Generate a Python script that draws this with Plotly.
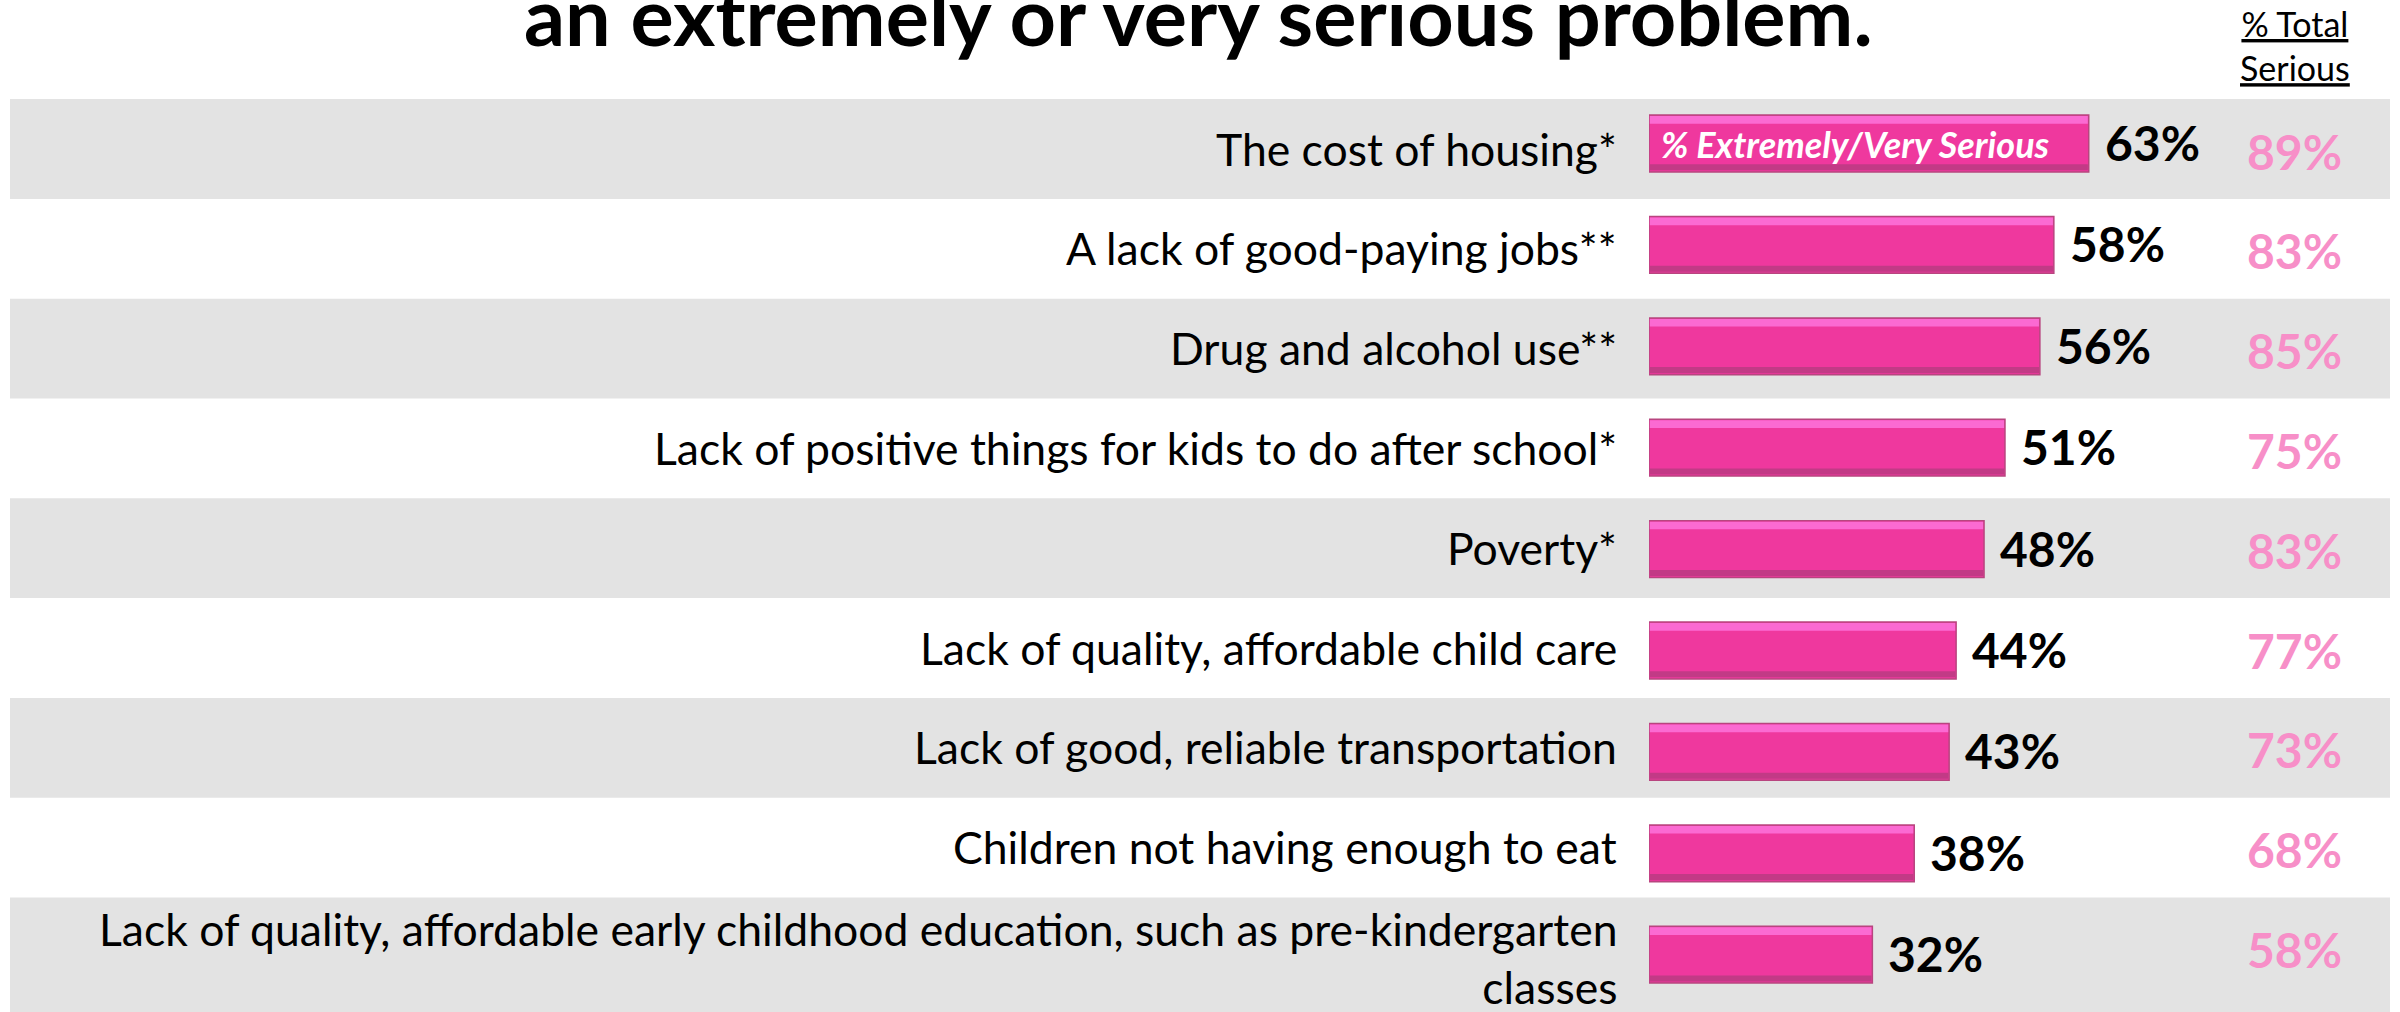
import plotly.graph_objects as go

categories = [
    "The cost of housing*",
    "A lack of good-paying jobs**",
    "Drug and alcohol use**",
    "Lack of positive things for kids to do after school*",
    "Poverty*",
    "Lack of quality, affordable child care",
    "Lack of good, reliable transportation",
    "Children not having enough to eat",
    "Lack of quality, affordable early childhood education, such as pre-kindergarten<br>classes",
]
extremely_very = [63, 58, 56, 51, 48, 44, 43, 38, 32]
total_serious = [89, 83, 85, 75, 83, 77, 73, 68, 58]
title_text = "an extremely or very serious problem."
header_text = "<u>% Total</u><br><u>Serious</u>"
inside_label = "% Extremely/Very Serious"

W, H = 2400, 1012
FONT = "Lato"
PINK = "#ef389e"
PINK_LIGHT = "#fb6ad2"
PINK_DARK = "#c23a86"
VAL_PINK = "#f78fc8"
BAND = "#e3e3e3"

idx = list(range(len(categories)))

fig = go.Figure()

# main bars
fig.add_trace(go.Bar(
    y=idx, x=extremely_very, orientation="h",
    width=0.56, offset=-0.28,
    marker=dict(color=PINK, line=dict(color="#b8457f", width=1.5)),
    hoverinfo="skip", showlegend=False,
))
# top bevel highlight
fig.add_trace(go.Bar(
    y=idx, x=[v - 0.25 for v in extremely_very], base=0.12, orientation="h",
    width=0.075, offset=-0.27,
    marker=dict(color=PINK_LIGHT, line=dict(width=0)),
    hoverinfo="skip", showlegend=False,
))
# bottom bevel shadow
fig.add_trace(go.Bar(
    y=idx, x=[v - 0.25 for v in extremely_very], base=0.12, orientation="h",
    width=0.06, offset=0.205,
    marker=dict(color=PINK_DARK, line=dict(width=0)),
    hoverinfo="skip", showlegend=False,
))
# dummy trace for band axis
fig.add_trace(go.Scatter(x=[None], y=[None], yaxis="y2", hoverinfo="skip", showlegend=False))

annotations = []
n = len(categories)
for i, (cat, v, t) in enumerate(zip(categories, extremely_very, total_serious)):
    multi = "<br>" in cat
    annotations.append(dict(
        x=0, y=i, xref="x", yref="y2", text=cat, showarrow=False,
        xanchor="right", yanchor="middle", align="right", xshift=-30,
        yshift=-10 if multi else 1,
        font=dict(family=FONT, size=44.5, color="black"),
    ))
    annotations.append(dict(
        x=v, y=i, xref="x", yref="y", text=f"{v}%", showarrow=False,
        xanchor="left", yanchor="middle", xshift=14, yshift=1,
        font=dict(family=FONT, size=48, color="black", weight="bold"),
    ))
    annotations.append(dict(
        x=2294 / W, y=i, xref="paper", yref="y2", text=f"{t}%", showarrow=False,
        xanchor="center", yanchor="middle", yshift=-2,
        font=dict(family=FONT, size=48, color=VAL_PINK, weight="bold"),
    ))

annotations.append(dict(
    x=0, y=0, xref="x", yref="y", text=inside_label, showarrow=False,
    xanchor="left", yanchor="middle", xshift=10, yshift=0,
    font=dict(family=FONT, size=36, color="white", weight="bold", style="italic"),
))
annotations.append(dict(
    x=1198 / W, y=1 - 14 / H, xref="paper", yref="paper", text=title_text, showarrow=False,
    xanchor="center", yanchor="middle",
    font=dict(family=FONT, size=81, color="black", weight="bold"),
))
annotations.append(dict(
    x=2295 / W, y=1 - 46 / H, xref="paper", yref="paper", text=header_text, showarrow=False,
    xanchor="center", yanchor="middle", align="center",
    font=dict(family=FONT, size=34, color="black"),
))

shapes = []
for i in range(0, n, 2):
    y1 = i + 0.5 if i < n - 1 else i + 1.5
    shapes.append(dict(
        type="rect", xref="paper", yref="y2", x0=10 / W, x1=2390 / W,
        y0=i - 0.5, y1=y1, fillcolor=BAND, line=dict(width=0), layer="below",
    ))

bar_px = 6.98
bar_left = 1649
row_bar = 101.4
c0_bar = 143.5
row_band = 99.8
c0_band = 149.0

fig.update_layout(
    width=W, height=H,
    margin=dict(l=0, r=0, t=0, b=0),
    paper_bgcolor="white", plot_bgcolor="rgba(0,0,0,0)",
    barmode="overlay",
    xaxis=dict(domain=[bar_left / W, 1], range=[0, (W - bar_left) / bar_px],
               visible=False, fixedrange=True),
    yaxis=dict(range=[(H - c0_bar) / row_bar, -c0_bar / row_bar],
               visible=False, fixedrange=True),
    yaxis2=dict(range=[(H - c0_band) / row_band, -c0_band / row_band],
                overlaying="y", visible=False, fixedrange=True),
    annotations=annotations,
    shapes=shapes,
    showlegend=False,
)

fig.write_html(
    "out.html",
    config={"displayModeBar": False},
    post_script="document.body.style.margin='0';document.body.style.overflow='hidden';",
)
